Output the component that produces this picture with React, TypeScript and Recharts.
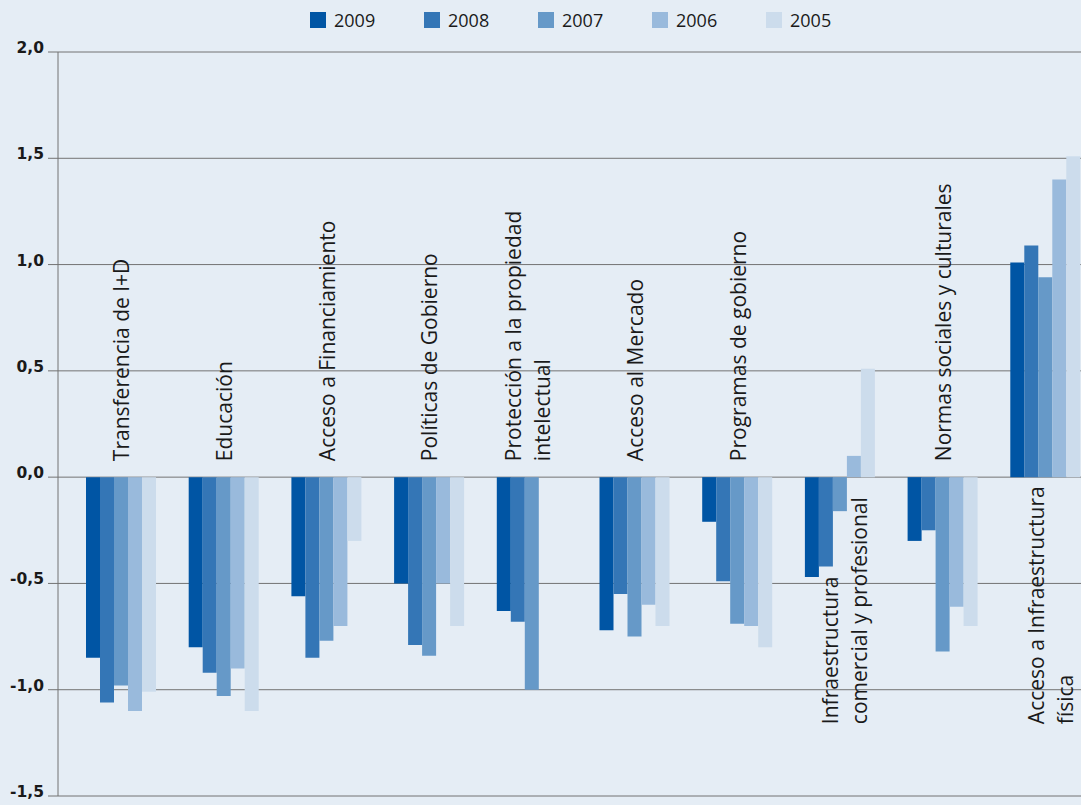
import React from 'react';
import { BarChart, Bar, XAxis, YAxis, CartesianGrid, ReferenceDot } from 'recharts';

// ---------- data ----------
const CATEGORIES = [
  'Transferencia de I+D',
  'Educación',
  'Acceso a Financiamiento',
  'Políticas de Gobierno',
  'Protección a la propiedad intelectual',
  'Acceso al Mercado',
  'Programas de gobierno',
  'Infraestructura comercial y profesional',
  'Normas sociales y culturales',
  'Acceso a Infraestructura física',
];

const CATEGORY_LINES: string[][] = [
  ['Transferencia de I+D'],
  ['Educación'],
  ['Acceso a Financiamiento'],
  ['Políticas de Gobierno'],
  ['Protección a la propiedad', 'intelectual'],
  ['Acceso al Mercado'],
  ['Programas de gobierno'],
  ['Infraestructura', 'comercial y profesional'],
  ['Normas sociales y culturales'],
  ['Acceso a Infraestructura', 'física'],
];

const YEARS = ['2009', '2008', '2007', '2006', '2005'];

const V2009 = [-0.85, -0.8, -0.56, -0.5, -0.63, -0.72, -0.21, -0.47, -0.3, 1.01];
const V2008 = [-1.06, -0.92, -0.85, -0.79, -0.68, -0.55, -0.49, -0.42, -0.25, 1.09];
const V2007 = [-0.98, -1.03, -0.77, -0.84, -1.0, -0.75, -0.69, -0.16, -0.82, 0.94];
const V2006 = [-1.1, -0.9, -0.7, -0.5, null, -0.6, -0.7, 0.1, -0.61, 1.4];
const V2005 = [-1.01, -1.1, -0.3, -0.7, null, -0.7, -0.8, 0.51, -0.7, 1.51];

const Y_TICKS = [-1.5, -1, -0.5, 0, 0.5, 1, 1.5, 2];

// ---------- styles ----------
const SERIES_VALUES = [V2009, V2008, V2007, V2006, V2005];
const COLORS = ['#0055a4', '#3476b6', '#6699c8', '#99badc', '#ccdcec'];
const BG = '#e5edf5';
const GRID = '#737373';
const TEXT = '#1a1a1a';

const rows = CATEGORIES.map((cat, i) => {
  const r: Record<string, any> = { cat };
  YEARS.forEach((y, k) => {
    r['y' + y] = SERIES_VALUES[k][i];
  });
  return r;
});

const fmt = (v: number) => v.toFixed(1).replace('.', ',');

const YTick = (p: any) => {
  const { x, y, payload } = p;
  return (
    <text
      x={x}
      y={y + 1}
      textAnchor="end"
      fill={TEXT}
      fontFamily="'DejaVu Sans', Verdana, sans-serif"
      fontWeight="bold"
      fontSize={15.5}
    >
      {fmt(payload.value)}
    </text>
  );
};

const renderCategoryLabel = (p: any, i: number) => {
  const { cx, cy } = p;
  const lines = CATEGORY_LINES[i];
  const vals = SERIES_VALUES.map((s) => s[i]).filter((v) => v !== null) as number[];
  const below = Math.max(...vals) > 0;
  const startY = below ? cy + 247 : cy - 16;
  const x0 = lines.length === 1 ? cx + 8 : below ? cx - 2 : cx - 11;
  return (
    <g>
      <text
        x={x0}
        y={startY}
        transform={`rotate(-90 ${x0} ${startY})`}
        textAnchor="start"
        fill={TEXT}
        fontFamily="'Open Sans', 'Noto Sans', sans-serif"
        fontSize={21}
      >
        {lines.map((ln, k) => (
          <tspan key={k} x={x0} dy={k === 0 ? 0 : 29}>
            {ln}
          </tspan>
        ))}
      </text>
    </g>
  );
};

export default function App() {
  return (
    <div
      style={{
        position: 'absolute',
        left: 0,
        top: 0,
        width: 1081,
        height: 805,
        overflow: 'hidden',
        background: BG,
      }}
    >
      <div
        style={{
          position: 'absolute',
          top: 12,
          left: 310,
          display: 'flex',
          height: 16,
          alignItems: 'center',
          fontFamily: "'Open Sans', 'Noto Sans', sans-serif",
          fontSize: 18,
          color: TEXT,
        }}
      >
        {YEARS.map((y, k) => (
          <div key={y} style={{ width: 114, display: 'flex', alignItems: 'center' }}>
            <span style={{ display: 'inline-block', width: 16, height: 16, background: COLORS[k] }} />
            <span style={{ marginLeft: 8, lineHeight: 1.36 }}>{y}</span>
          </div>
        ))}
      </div>
      <div style={{ position: 'absolute', left: 0, top: 0 }}>
        <BarChart
          width={1097}
          height={805}
          data={rows}
          margin={{ top: 52, right: 0, bottom: 9, left: 0 }}
          barSize={14}
          barGap={0}
        >
          <CartesianGrid vertical={false} stroke={GRID} strokeWidth={1} />
          <XAxis dataKey="cat" type="category" hide padding={{ left: 12, right: 0 }} />
          <YAxis
            type="number"
            domain={[-1.5, 2]}
            ticks={Y_TICKS}
            interval={0}
            width={58}
            tickSize={10}
            tickMargin={4}
            axisLine={{ stroke: GRID }}
            tickLine={{ stroke: GRID }}
            tick={YTick}
            allowDataOverflow
          />
          {YEARS.map((y, k) => (
            <Bar
              key={y}
              dataKey={'y' + y}
              name={y}
              fill={COLORS[k]}
              isAnimationActive={false}
            />
          ))}
          {CATEGORIES.map((c, i) => (
            <ReferenceDot
              key={c}
              x={c}
              y={0}
              r={0}
              fill="none"
              stroke="none"
              shape={(p: any) => renderCategoryLabel(p, i)}
            />
          ))}
        </BarChart>
      </div>
    </div>
  );
}
